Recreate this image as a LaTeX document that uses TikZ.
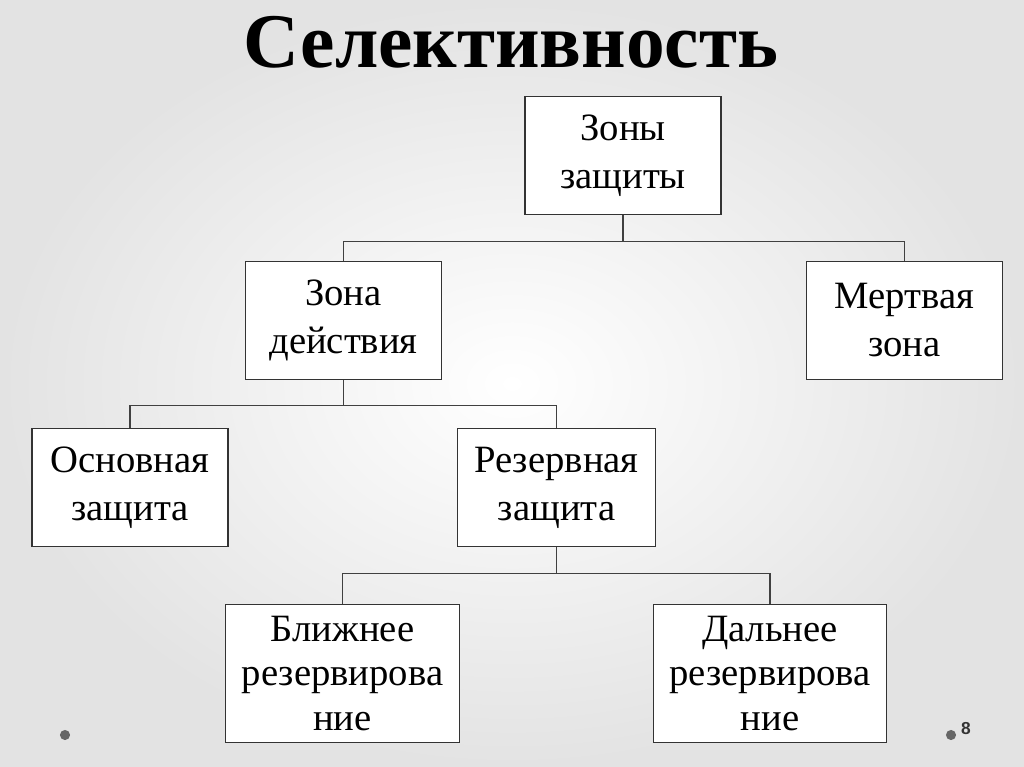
\documentclass[tikz,border=0pt]{standalone}
\usepackage{fontspec}
\setmainfont{Liberation Serif}
\newfontfamily\numfont{Liberation Sans}
\usepackage{tikz}

\tikzset{
  blok/.style={draw=black!80, fill=white, line width=0.9pt, align=center, inner sep=0pt,
    minimum width=147pt, minimum height=88pt, font=\fontsize{29}{36}\selectfont},
  blokhigh/.style={blok, minimum width=175pt, minimum height=103pt, font=\fontsize{29}{33.5}\selectfont},
  link/.style={draw=black!75, line width=0.8pt}
}

\begin{document}
\begin{tikzpicture}[x=0.75pt, y=-0.75pt]
    % slide background, pixel grid 1024 x 767, y grows downward
    \useasboundingbox (0,0) rectangle (1024,767);
    \shade[inner color=white, outer color=black!11] (0,0) rectangle (1024,767);

    \node[font=\fontsize{58}{60}\selectfont\bfseries, anchor=base] (title) at (511,68) {Селективность};

    % levels of the tree
    \node[blok] (zony) at (623,155.5) {Зоны\\защиты};
    \node[blok] (zdeistv) at (343.5,320.5) {Зона\\действия};
    \node[blok] (mertv) at (904.5,320.5) {Мертвая\\зона};
    \node[blok] (osnov) at (130,487.5) {Основная\\защита};
    \node[blok, minimum width=149pt] (rezerv) at (556.5,487.5) {Резервная\\защита};
    \node[blokhigh] (blizh) at (342.5,673.5) {Ближнее\\резервирова\\ние};
    \node[blokhigh] (daln) at (770,673.5) {Дальнее\\резервирова\\ние};

    % connectors
    \draw[link] (zony.south) -- ++(0,27) coordinate (t1) -| (zdeistv.north);
    \draw[link] (t1) -| (mertv.north);
    \draw[link] (zdeistv.south) -- ++(0,26) coordinate (t2) -| (osnov.north);
    \draw[link] (t2) -| (rezerv.north);
    \draw[link] (rezerv.south) -- ++(0,27) coordinate (t3) -| (blizh.north);
    \draw[link] (t3) -| (daln.north);

    % footer marks
    \fill[black!60] (65,735) circle (3.8pt);
    \fill[black!60] (951,735) circle (3.8pt);
    \node[font=\numfont\bfseries\fontsize{13}{14}\selectfont, text=black!80] (num) at (966,729) {8};
\end{tikzpicture}
\end{document}
